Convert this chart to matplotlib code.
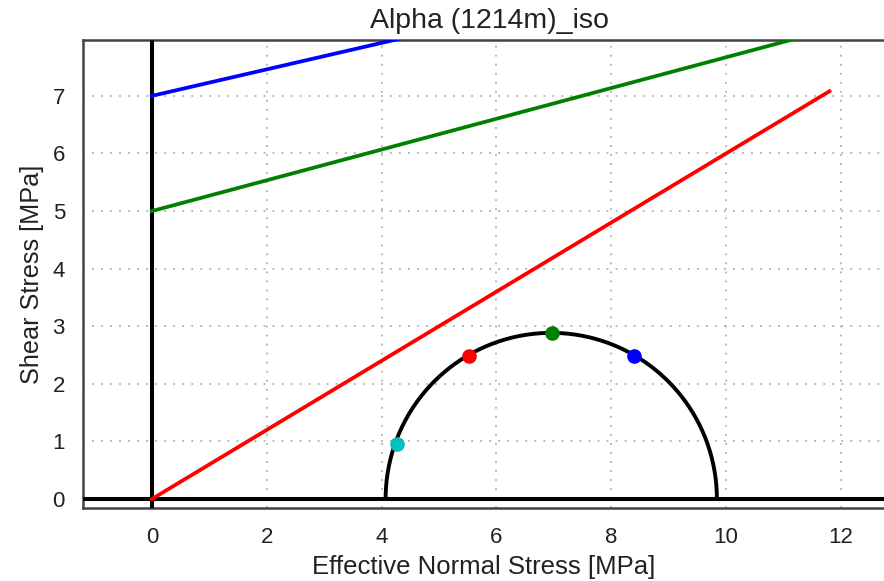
import numpy as np
import matplotlib
matplotlib.use('Agg')
import matplotlib.pyplot as plt

plt.rcParams['font.family'] = ['Liberation Sans', 'DejaVu Sans']

# Mohr circle: principal effective stresses [MPa]
sigma3 = 4.07
sigma1 = 9.84

# failure / slip lines: intercept (cohesion) and slope (friction)
line_colors = ['red', 'green', 'blue']
line_intercepts = [0.0, 5.0, 7.0]
line_slopes = [0.60, 0.267, 0.23]
line_x_end = 11.8

# stress points on the circle
pt_sigma = [4.26, 5.52, 6.97, 8.40]
pt_tau = [0.96, 2.48, 2.88, 2.48]
pt_colors = ['c', 'red', 'green', 'blue']

x_ticks = [0, 2, 4, 6, 8, 10, 12]
y_ticks = [0, 1, 2, 3, 4, 5, 6, 7]

fig = plt.figure(figsize=(8.84, 5.81), dpi=100)
ax = fig.add_axes([83/884, 73/581, 801/884, 468/581])

# grid
ax.set_xticks(x_ticks)
ax.set_yticks(y_ticks)
ax.grid(True, linestyle=(0, (1, 4)), color='#b0b0b0', linewidth=1.3)

# zero axes
ax.axhline(0, color='black', linewidth=2.9, zorder=3)
ax.axvline(0, color='black', linewidth=2.9, zorder=3)

# lines
for c, b, m in zip(line_colors, line_intercepts, line_slopes):
    xs = np.array([0.0, line_x_end])
    ax.plot(xs, b + m * xs, color=c, linewidth=2.7, zorder=4)

# Mohr circle (upper half)
center = (sigma1 + sigma3) / 2
radius = (sigma1 - sigma3) / 2
theta = np.linspace(0, np.pi, 300)
ax.plot(center + radius * np.cos(theta), radius * np.sin(theta),
        color='black', linewidth=2.8, zorder=4)

# points
for s, t, c in zip(pt_sigma, pt_tau, pt_colors):
    ax.plot(s, t, 'o', color=c, markersize=9.5, zorder=5)

ax.set_xlim(-1.20, 12.75)
ax.set_ylim(-0.156, 7.97)

ax.tick_params(length=0, labelsize=16, colors='#222222')
ax.tick_params(axis='x', pad=14)
ax.tick_params(axis='y', pad=13)

for side in ['left', 'bottom', 'top']:
    ax.spines[side].set_color('#444444')
    ax.spines[side].set_linewidth(1.8)
ax.spines['right'].set_visible(False)

ax.set_title('Alpha (1214m)_iso', fontsize=20.5, color='#222222', x=0.507, pad=9)
ax.set_xlabel('Effective Normal Stress [MPa]', fontsize=18.5, color='#222222', labelpad=5)
ax.set_ylabel('Shear Stress [MPa]', fontsize=18.2, color='#222222', labelpad=6)

fig.savefig('out.png', dpi=100)
